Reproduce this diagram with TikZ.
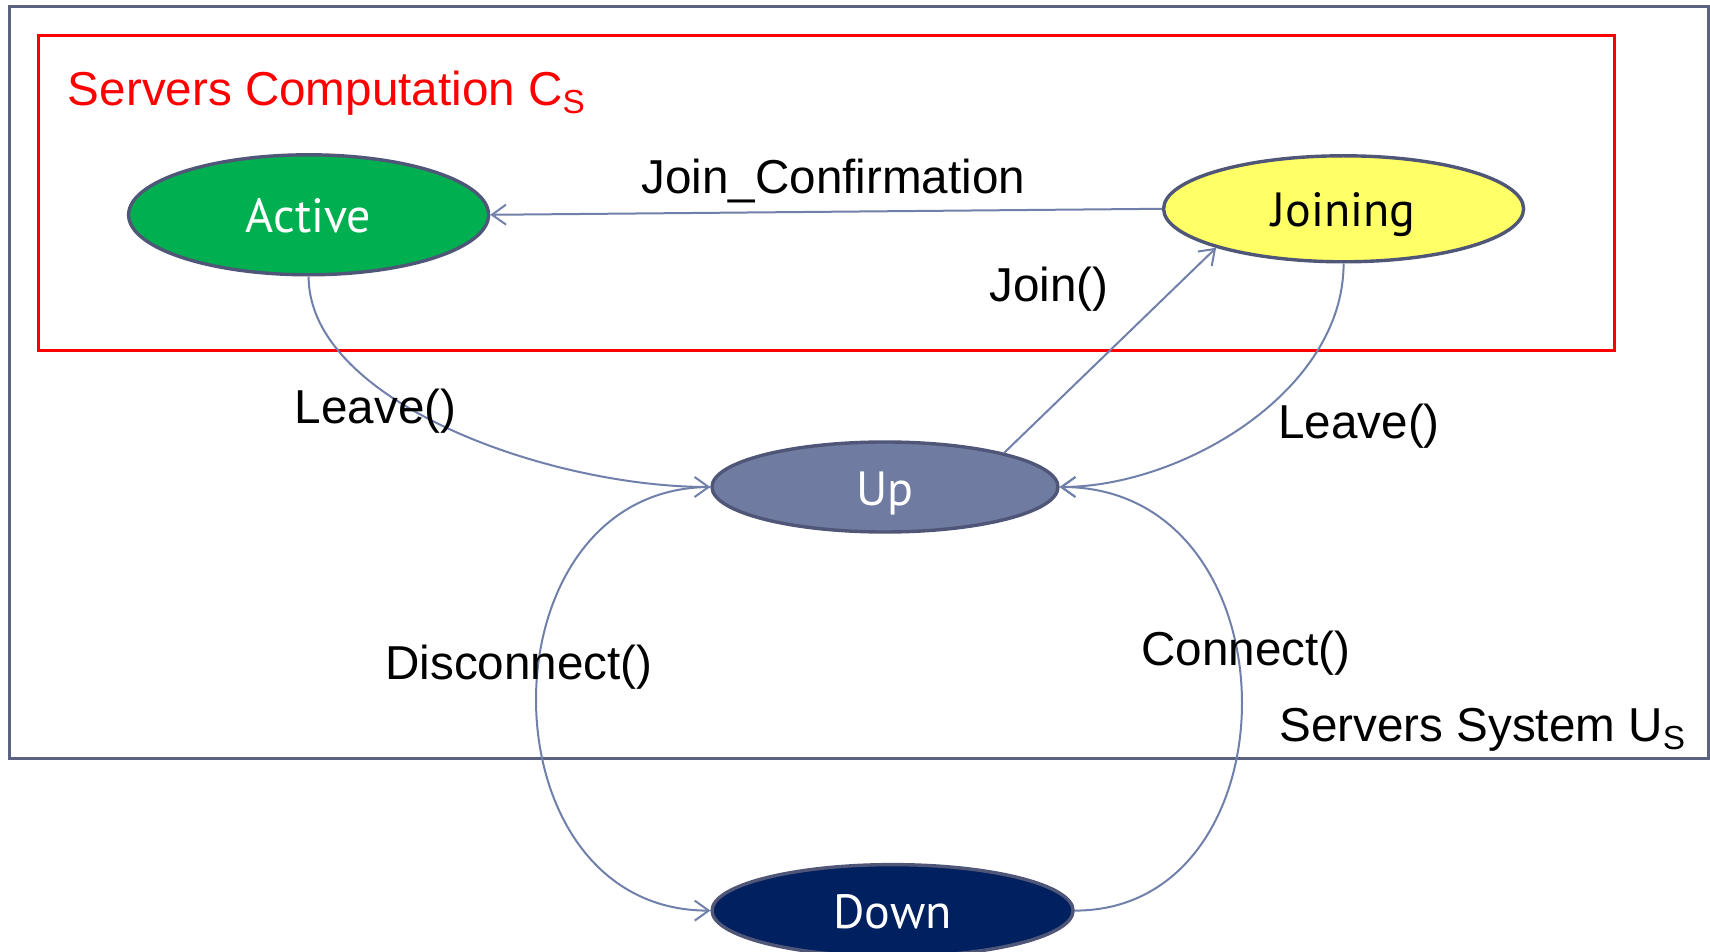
\documentclass[tikz,border=0pt]{standalone}
\usepackage{fontspec}
\setmainfont{Liberation Sans}
\newfontfamily\statefont{PT Sans}
\usetikzlibrary{shapes.geometric,arrows.meta}

\definecolor{framegray}{HTML}{5B6280}
\definecolor{statebord}{HTML}{4F5677}
\definecolor{linkblue}{HTML}{7080AA}
\definecolor{activegreen}{HTML}{00B050}
\definecolor{joinyellow}{HTML}{FFFF66}
\definecolor{upblue}{HTML}{6F7BA1}
\definecolor{downnavy}{HTML}{002060}

\tikzset{
  state/.style={ellipse, draw=statebord, line width=1.7pt, inner sep=0pt,
    text height=18pt, text depth=0pt,
    font=\statefont\fontsize{24pt}{28pt}\selectfont},
  lbl/.style={anchor=base west, inner sep=0pt,
    font=\fontsize{23.8pt}{28pt}\selectfont},
  link/.style={draw=linkblue, line width=1pt,
    -{Straight Barb[length=7pt,width=10pt,line width=1pt]}},
}

\begin{document}
\begin{tikzpicture}[x=0.5pt,y=-0.5pt]
\useasboundingbox (0,0) rectangle (1710,952);

% system and computation frames
\draw[framegray, line width=1.5pt] (9,7) rectangle (1708,758);
\draw[red, line width=1.5pt] (38,36) rectangle (1614,351);

% states
\node[state, fill=activegreen, text=white, minimum width=180pt, minimum height=60pt] (active) at (308.6,214.8) {Active};
\node[state, fill=joinyellow, text=black, minimum width=180pt, minimum height=53pt] (joining) at (1343.6,208.8) {Joining};
\node[state, fill=upblue, text=white, minimum width=173pt, minimum height=45pt] (up) at (885,487) {Up};
\node[state, fill=downnavy, text=white, minimum width=180.5pt, minimum height=46pt] (down) at (892.6,910.6) {Down};

% transitions
\draw[link] (joining.west) -- (active.east);
\draw[link] (up.16) -- (joining.197);
\draw[link] (active.south) .. controls +(0,125) and +(-162,0) .. (up.west);
\draw[link] (joining.south) .. controls +(0,128) and +(122,0) .. (up.east);
\draw[link] (up.west) .. controls +(-232,0) and +(-232,0) .. (down.west);
\draw[link] (down.east) .. controls +(225,0) and +(240,0) .. (up.east);

% labels
\node[lbl, text=red] (title) at (67.6,106) {Servers Computation C\textsubscript{S}};
\node[lbl] (lconf) at (641,194) {Join\_Confirmation};
\node[lbl] (ljoin) at (989,302) {Join()};
\node[lbl] (lleavea) at (294.5,423) {Leave()};
\node[lbl] (lleaveb) at (1278,438) {Leave()};
\node[lbl] (ldisc) at (385,679) {Disconnect()};
\node[lbl] (lconn) at (1141,665) {Connect()};
\node[lbl] (lsys) at (1279,741.6) {Servers System U\textsubscript{S}};
\end{tikzpicture}
\end{document}
